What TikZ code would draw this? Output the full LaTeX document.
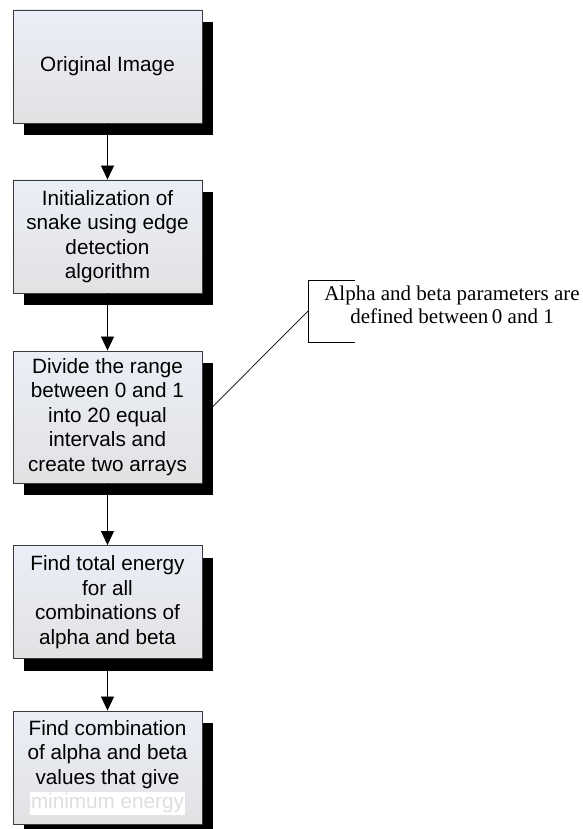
\documentclass[tikz,border=0pt]{standalone}
\usepackage{fontspec}
\setmainfont{Liberation Sans}
\newfontfamily\calloutfont{Liberation Serif}
\usetikzlibrary{shadows,arrows.meta,calc}
\pgfdeclarelayer{background}
\pgfsetlayers{background,main}
\definecolor{boxtop}{RGB}{234,238,246}
\definecolor{boxbottom}{RGB}{226,226,228}
\definecolor{boxedge}{RGB}{60,60,60}
\definecolor{fadedgray}{RGB}{222,222,222}
% text set on a white band in pale gray
\newcommand\fadedtext[1]{{\setlength{\fboxsep}{1.5pt}\colorbox{white}{\color{fadedgray}#1}}}

\begin{document}
\begin{tikzpicture}[x=1pt,y=-1pt,
  stepbox/.style={draw=boxedge, line width=0.9pt,
    top color=boxtop, bottom color=boxbottom,
    minimum width=189pt, minimum height=113pt, inner sep=0pt,
    align=center, text=black,
    font=\fontsize{20.7}{24.5}\selectfont,
    drop shadow={shadow xshift=11pt, shadow yshift=-12pt, fill=black, opacity=1}},
  flow/.style={-{Triangle[width=13pt,length=14pt]}, line width=0.8pt},
  thin line/.style={line width=0.7pt},
]
\useasboundingbox (0,0) rectangle (582,829);

% process steps
\node[stepbox] (b1) at (107.5,66.5) {Original Image};
\node[stepbox] (b2) at (107.5,236.5) {Initialization of\\snake using edge\\detection\\algorithm};
\node[stepbox, minimum height=132pt] (b3) at (107.5,417) {Divide the range\\between 0 and 1\\into 20 equal\\intervals and\\create two arrays};
\node[stepbox] (b4) at (107.5,602) {Find total energy\\for all\\combinations of\\alpha and beta};
\node[stepbox] (b5) at (107.5,767.5) {Find combination\\of alpha and beta\\values that give\\\fadedtext{minimum energy}};

% flow arrows
\draw[flow] (b1) -- (b2);
\draw[flow] (b2) -- (b3);
\draw[flow] (b3) -- (b4);
\draw[flow] (b4) -- (b5);

% annotation with bracket
\node[font=\calloutfont\fontsize{21}{23}\selectfont, align=center, inner sep=0pt]
  (note) at (452,305) {Alpha and beta parameters are\\defined between\,0 and 1};
\coordinate (brk) at (308,311);
\draw[thin line] ($(brk)+(47,-31)$) -- ($(brk)+(0,-31)$) -- ($(brk)+(0,31)$) -- ($(brk)+(47,31)$);

% page background and the leader line, kept under the boxes and their shadows
\begin{pgfonlayer}{background}
  \fill[white] (0,0) rectangle (582,829);
  \draw[thin line] (brk) -- (b3.east);
\end{pgfonlayer}
\end{tikzpicture}
\end{document}
